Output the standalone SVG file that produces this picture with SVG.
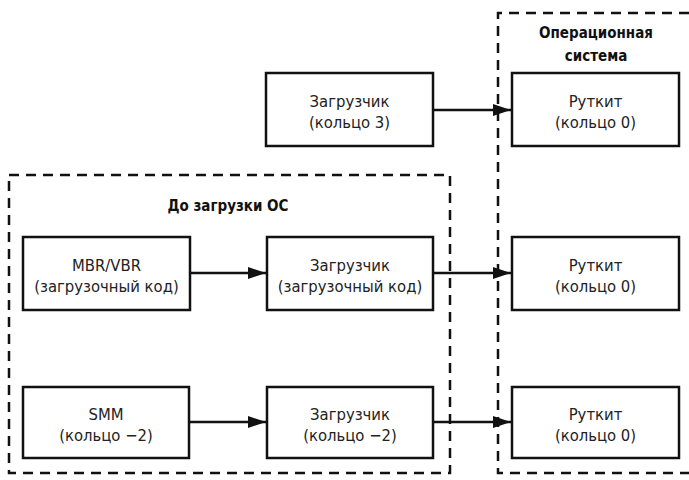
<svg xmlns="http://www.w3.org/2000/svg" width="689" height="480" viewBox="0 0 689 480">
<defs>
<marker id="ah" markerWidth="18" markerHeight="12" refX="18" refY="6" orient="auto" markerUnits="userSpaceOnUse">
<path d="M0,0 L18,6 L0,12 z" fill="#111"/>
</marker>
</defs>
<style>
.box{fill:#fff;stroke:#111;stroke-width:2.5}
.grp{fill:none;stroke:#111;stroke-width:2.5;stroke-dasharray:10 7}
.t{font-family:"DejaVu Sans Condensed","DejaVu Sans",sans-serif;font-stretch:condensed;font-size:16.5px;fill:#222;text-anchor:middle}
.b{font-family:"DejaVu Sans Condensed","DejaVu Sans",sans-serif;font-stretch:condensed;font-size:15px;font-weight:bold;fill:#111;text-anchor:middle}
.c{stroke:#111;stroke-width:2.5;fill:none;marker-end:url(#ah)}
</style>
<g id="os-group">
<path class="grp" d="M689,13 L498,13 L498,473 L689,473"/>
<text class="b" x="596" y="38">Операционная</text>
<text class="b" x="596" y="61">система</text>
</g>
<g id="preos-group">
<rect class="grp" x="9" y="175" width="441" height="298"/>
<text class="b" x="228" y="211">До загрузки ОС</text>
</g>
<g id="connectors">
<line class="c" x1="433" y1="110" x2="511" y2="110"/>
<line class="c" x1="190" y1="273" x2="266" y2="273"/>
<line class="c" x1="433" y1="273" x2="511" y2="273"/>
<line class="c" x1="189" y1="422" x2="266" y2="422"/>
<line class="c" x1="433" y1="422" x2="511" y2="422"/>
</g>
<g id="loader3">
<rect class="box" x="266" y="73" width="167" height="73"/>
<text class="t" x="349.5" y="107">Загрузчик</text>
<text class="t" x="349.5" y="128">(кольцо 3)</text>
</g>
<g id="rootkit1">
<rect class="box" x="512" y="73" width="167" height="73"/>
<text class="t" x="595.5" y="107">Руткит</text>
<text class="t" x="595.5" y="128">(кольцо 0)</text>
</g>
<g id="mbr">
<rect class="box" x="23" y="237" width="167" height="73"/>
<text class="t" x="106.5" y="271">MBR/VBR</text>
<text class="t" x="106.5" y="292">(загрузочный код)</text>
</g>
<g id="loaderboot">
<rect class="box" x="267" y="237" width="166" height="73"/>
<text class="t" x="350" y="271">Загрузчик</text>
<text class="t" x="350" y="292">(загрузочный код)</text>
</g>
<g id="rootkit2">
<rect class="box" x="512" y="237" width="167" height="73"/>
<text class="t" x="595.5" y="271">Руткит</text>
<text class="t" x="595.5" y="292">(кольцо 0)</text>
</g>
<g id="smm">
<rect class="box" x="23" y="387" width="166" height="71"/>
<text class="t" x="106" y="420">SMM</text>
<text class="t" x="106" y="441">(кольцо −2)</text>
</g>
<g id="loader-2">
<rect class="box" x="267" y="387" width="166" height="71"/>
<text class="t" x="350" y="420">Загрузчик</text>
<text class="t" x="350" y="441">(кольцо −2)</text>
</g>
<g id="rootkit3">
<rect class="box" x="512" y="387" width="167" height="71"/>
<text class="t" x="595.5" y="420">Руткит</text>
<text class="t" x="595.5" y="441">(кольцо 0)</text>
</g>
</svg>
